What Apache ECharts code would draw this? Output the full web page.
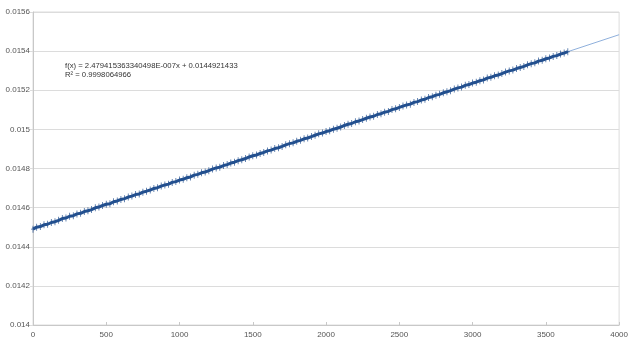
<!DOCTYPE html>
<html>
<head>
<meta charset="utf-8">
<script src="https://cdn.jsdelivr.net/npm/echarts@6/dist/echarts.min.js"></script>
<style>html,body{margin:0;padding:0;background:#fff}#c{width:631px;height:350px}</style>
</head>
<body>
<div id="c"></div>
<script>
var xValues = [0,25,50,75,100,125,150,175,200,225,250,275,300,325,350,375,400,425,450,475,500,525,550,575,600,625,650,675,700,725,750,775,800,825,850,875,900,925,950,975,1000,1025,1050,1075,1100,1125,1150,1175,1200,1225,1250,1275,1300,1325,1350,1375,1400,1425,1450,1475,1500,1525,1550,1575,1600,1625,1650,1675,1700,1725,1750,1775,1800,1825,1850,1875,1900,1925,1950,1975,2000,2025,2050,2075,2100,2125,2150,2175,2200,2225,2250,2275,2300,2325,2350,2375,2400,2425,2450,2475,2500,2525,2550,2575,2600,2625,2650,2675,2700,2725,2750,2775,2800,2825,2850,2875,2900,2925,2950,2975,3000,3025,3050,3075,3100,3125,3150,3175,3200,3225,3250,3275,3300,3325,3350,3375,3400,3425,3450,3475,3500,3525,3550,3575,3600,3625,3650];
var yValues = [0.014490,0.014500,0.014503,0.014512,0.014515,0.014524,0.014528,0.014535,0.014544,0.014547,0.014556,0.014559,0.014568,0.014571,0.014580,0.014584,0.014590,0.014599,0.014603,0.014611,0.014617,0.014620,0.014630,0.014634,0.014642,0.014646,0.014654,0.014659,0.014667,0.014670,0.014679,0.014684,0.014690,0.014698,0.014702,0.014710,0.014716,0.014720,0.014729,0.014733,0.014741,0.014745,0.014753,0.014757,0.014766,0.014770,0.014778,0.014782,0.014789,0.014797,0.014803,0.014807,0.014815,0.014820,0.014828,0.014832,0.014840,0.014845,0.014851,0.014859,0.014865,0.014869,0.014877,0.014882,0.014890,0.014894,0.014902,0.014906,0.014913,0.014921,0.014927,0.014931,0.014939,0.014944,0.014952,0.014956,0.014963,0.014970,0.014977,0.014981,0.014989,0.014993,0.015001,0.015006,0.015012,0.015020,0.015026,0.015030,0.015039,0.015043,0.015050,0.015057,0.015063,0.015067,0.015076,0.015080,0.015088,0.015092,0.015101,0.015105,0.015112,0.015119,0.015125,0.015129,0.015138,0.015142,0.015150,0.015154,0.015163,0.015167,0.015175,0.015179,0.015187,0.015192,0.015198,0.015206,0.015212,0.015216,0.015225,0.015229,0.015237,0.015241,0.015249,0.015253,0.015262,0.015266,0.015274,0.015278,0.015285,0.015293,0.015299,0.015303,0.015311,0.015316,0.015322,0.015330,0.015336,0.015340,0.015349,0.015353,0.015361,0.015365,0.015373,0.015377,0.015385,0.015390,0.015397];
var trendX = [0, 4000];
var trendY = [0.0144921, 0.0154839];
var equationText = ['f(x) = 2.479415363340498E-007x + 0.0144921433', 'R² = 0.9998064966'];
var xTicks = {min: 0, max: 4000, interval: 500};
var yTicks = {min: 0.014, max: 0.0156, interval: 0.0002};

var dataPts = xValues.map(function (x, i) { return [x, yValues[i]]; });
var trendPts = trendX.map(function (x, i) { return [x, trendY[i]]; });

var chart = echarts.init(document.getElementById('c'), null, {renderer: 'canvas'});
chart.setOption({
  animation: false,
  backgroundColor: '#fff',
  grid: {left: 33, right: 8, top: 12, bottom: 25, show: true, borderColor: '#dcdcdc', borderWidth: 1},
  xAxis: {
    type: 'value', min: xTicks.min, max: xTicks.max, interval: xTicks.interval,
    axisLine: {show: true, lineStyle: {color: '#c8c8c8'}},
    axisTick: {show: true, inside: true, length: 3, lineStyle: {color: '#c8c8c8'}},
    splitLine: {show: false},
    axisLabel: {color: '#555', fontSize: 8, fontFamily: 'Liberation Sans', margin: 6,
      formatter: function (v) { return String(v); }}
  },
  yAxis: {
    type: 'value', min: yTicks.min, max: yTicks.max, interval: yTicks.interval,
    axisLine: {show: true, lineStyle: {color: '#c8c8c8'}},
    axisTick: {show: true, length: 3, lineStyle: {color: '#dcdcdc'}},
    splitLine: {show: true, lineStyle: {color: '#dcdcdc'}},
    axisLabel: {color: '#555', fontSize: 8, fontFamily: 'Liberation Sans', margin: 3,
      formatter: function (v) { return String(parseFloat(v.toFixed(4))); }}
  },
  series: [
    {
      type: 'line', data: trendPts, symbol: 'none',
      lineStyle: {color: '#8fb0dc', width: 1}, z: 1
    },
    {
      type: 'line', data: dataPts,
      symbol: 'path://M4,0 L6,0 L6,7 L10,7 L10,9 L6,9 L6,16 L4,16 L4,9 L0,9 L0,7 L4,7 Z',
      symbolSize: [4, 7],
      itemStyle: {color: '#23508f', opacity: 0.85},
      lineStyle: {color: '#23508f', width: 3}, z: 2
    }
  ],
  graphic: [
    {type: 'text', left: 65, top: 61, style: {text: equationText.join('\n'), fill: '#333', font: '7.7px Liberation Sans', lineHeight: 9}}
  ]
});
</script>
</body>
</html>
